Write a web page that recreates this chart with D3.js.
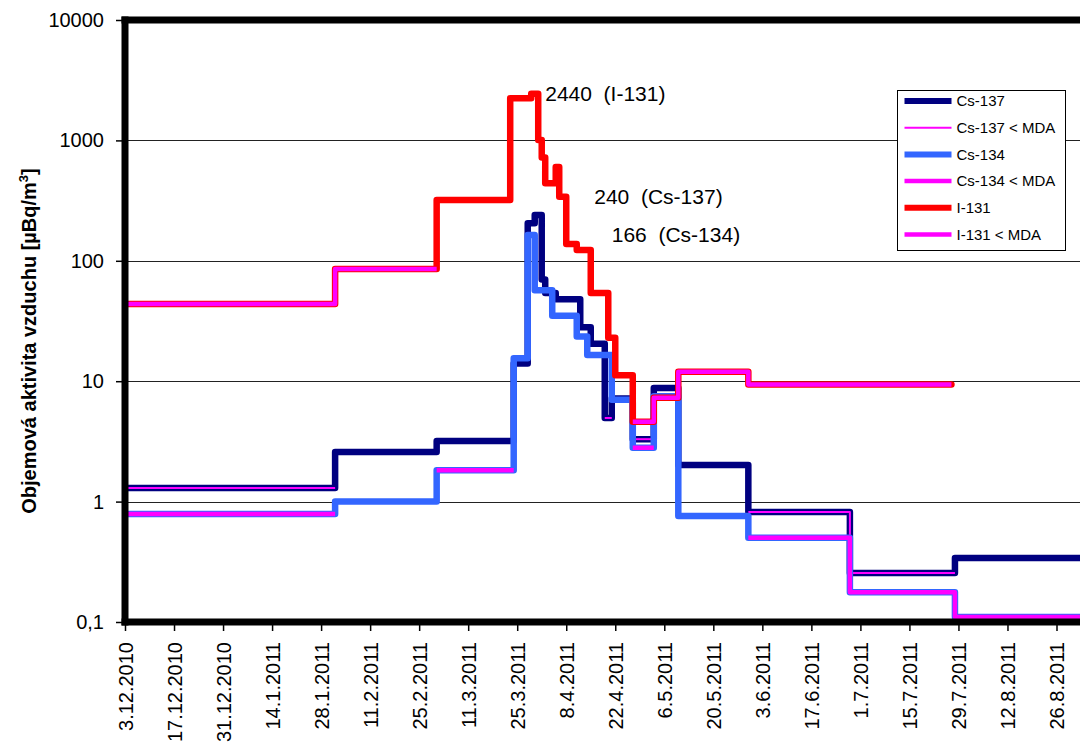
<!DOCTYPE html>
<html>
<head>
<meta charset="utf-8">
<script src="https://cdn.jsdelivr.net/npm/d3@7"></script>
<style>
  body { margin: 0; background: #fff; }
  text { font-family: Arial, "Liberation Sans", sans-serif; fill: #000; }
</style>
</head>
<body>
<svg id="chart" width="1080" height="749"></svg>
<script>
// x axis tick labels (every 14 days)
const xTickLabels = ["3.12.2010", "17.12.2010", "31.12.2010", "14.1.2011", "28.1.2011", "11.2.2011",
  "25.2.2011", "11.3.2011", "25.3.2011", "8.4.2011", "22.4.2011", "6.5.2011", "20.5.2011",
  "3.6.2011", "17.6.2011", "1.7.2011", "15.7.2011", "29.7.2011", "12.8.2011", "26.8.2011"];
const yTickValues = [0.1, 1, 10, 100, 1000, 10000];
const yTickLabels = ["0,1", "1", "10", "100", "1000", "10000"];

// step series: start date of each period, value, below-MDA flag (last date = end of last period)
const cs137Dates = ["3.12.2010", "1.2.2011", "2.3.2011", "24.3.2011", "28.3.2011", "30.3.2011", "1.4.2011",
  "2.4.2011", "5.4.2011", "12.4.2011", "15.4.2011", "19.4.2011", "21.4.2011", "27.4.2011", "3.5.2011",
  "10.5.2011", "30.5.2011", "28.6.2011", "28.7.2011", "9.9.2011"];
const cs137Values = [1.3, 2.58, 3.19, 14, 205, 240, 70, 54, 48, 28, 20.5, 4.95, 7.2, 3.3, 8.8, 2.01, 0.82, 0.255, 0.34, 0.34];
const cs137Mda = [1, 0, 0, 0, 0, 0, 0, 0, 0, 0, 0, 1, 0, 1, 0, 0, 1, 1, 0];

const cs134Dates = ["3.12.2010", "1.2.2011", "2.3.2011", "24.3.2011", "28.3.2011", "30.3.2011", "4.4.2011",
  "11.4.2011", "14.4.2011", "21.4.2011", "27.4.2011", "3.5.2011", "10.5.2011", "30.5.2011", "28.6.2011",
  "28.7.2011", "9.9.2011"];
const cs134Values = [0.79, 1.0, 1.82, 15.5, 164, 57, 35, 23.5, 16.5, 7.0, 2.8, 7.5, 0.76, 0.5, 0.177, 0.11, 0.11];
const cs134Mda = [1, 0, 1, 0, 0, 0, 0, 0, 0, 0, 1, 0, 0, 1, 1, 1];

const i131Dates = ["3.12.2010", "1.2.2011", "2.3.2011", "23.3.2011", "29.3.2011", "31.3.2011", "1.4.2011",
  "2.4.2011", "5.4.2011", "6.4.2011", "8.4.2011", "11.4.2011", "15.4.2011", "20.4.2011", "22.4.2011",
  "27.4.2011", "3.5.2011", "10.5.2011", "30.5.2011", "27.7.2011"];
const i131Values = [43.8, 85.5, 320, 2240, 2440, 1010, 720, 440, 600, 340, 138, 123, 54, 23, 11.2, 4.6, 7.3, 12, 9.4, 9.4];
const i131Mda = [1, 1, 0, 0, 0, 0, 0, 0, 0, 0, 0, 0, 0, 0, 0, 1, 1, 1, 1];

const legendNames = ["Cs-137", "Cs-137 < MDA", "Cs-134", "Cs-134 < MDA", "I-131", "I-131 < MDA"];
const peakNotes = ["2440  (I-131)", "240  (Cs-137)", "166  (Cs-134)"];
const peakNoteDates = ["2.4.2011", "16.4.2011", "21.4.2011"];

const parse = d3.utcParse("%d.%m.%Y");
const svg = d3.select("#chart");

const plotLeft = 125, plotTop = 20, plotBottom = 622;
const x = d3.scaleUtc()
  .domain([parse("3.12.2010"), parse("26.8.2011")])
  .range([plotLeft, 1056.5]);
const y = d3.scaleLog().domain([0.1, 10000]).range([plotBottom, plotTop]);

svg.append("clipPath").attr("id", "plot")
  .append("rect").attr("x", plotLeft).attr("y", plotTop).attr("width", 1200).attr("height", plotBottom - plotTop);

// gridlines
svg.append("g").selectAll("line")
  .data(yTickValues.slice(1, -1))
  .join("line")
  .attr("x1", plotLeft).attr("x2", 1080)
  .attr("y1", d => Math.round(y(d)) + 0.5).attr("y2", d => Math.round(y(d)) + 0.5)
  .attr("stroke", "#222").attr("stroke-width", 1);

// y axis
const yAxis = d3.axisLeft(y).tickValues(yTickValues)
  .tickFormat((d, i) => yTickLabels[i]).tickSize(6).tickPadding(12);
const gy = svg.append("g").attr("transform", `translate(${plotLeft - 3},0)`).call(yAxis);
gy.select(".domain").remove();
gy.selectAll("line").attr("stroke-width", 1.5);
gy.selectAll("text").style("font-size", "20px");

// x axis
const xAxis = d3.axisBottom(x).tickValues(xTickLabels.map(parse))
  .tickFormat((d, i) => xTickLabels[i]).tickSize(6).tickPadding(0);
const gx = svg.append("g").attr("transform", `translate(0,${plotBottom + 3})`).call(xAxis);
gx.select(".domain").remove();
gx.selectAll("line").attr("stroke-width", 1.5);
gx.selectAll("text")
  .style("font-size", "20px")
  .attr("text-anchor", "end")
  .attr("dy", null)
  .attr("transform", "translate(7,17) rotate(-90)")
  .attr("x", 0).attr("y", 0);

// y title
svg.append("text")
  .attr("transform", `translate(36,${(plotTop + plotBottom) / 2 + 20}) rotate(-90)`)
  .attr("text-anchor", "middle")
  .style("font-size", "20px").style("font-weight", "bold")
  .html('Objemová aktivita vzduchu [µBq/m<tspan dy="-8" font-size="13px">3</tspan><tspan dy="8">]</tspan>');

// series
const stepLine = d3.line().x(d => x(d[0])).y(d => y(d[1])).curve(d3.curveStepAfter);

function points(dates, values) {
  return dates.map((d, i) => [parse(d), values[i]]);
}
function mdaRuns(dates, values, mda) {
  const runs = [];
  let run = null;
  mda.forEach((m, i) => {
    if (m) {
      if (!run) { run = []; runs.push(run); }
      run.push([parse(dates[i]), values[i]]);
    } else if (run) {
      run.push([parse(dates[i]), values[i - 1]]);
      run = null;
    }
  });
  if (run) run.push([parse(dates[mda.length]), values[mda.length - 1]]);
  return runs;
}

const plot = svg.append("g").attr("clip-path", "url(#plot)");
const series = [
  { dates: cs137Dates, values: cs137Values, mda: cs137Mda, color: "#000080", mdaWidth: 2 },
  { dates: cs134Dates, values: cs134Values, mda: cs134Mda, color: "#3366FF", mdaWidth: 4.5 },
  { dates: i131Dates, values: i131Values, mda: i131Mda, color: "#FF0000", mdaWidth: 4.5 }
];
series.forEach(s => {
  plot.append("path")
    .datum(points(s.dates, s.values))
    .attr("d", stepLine)
    .attr("fill", "none").attr("stroke", s.color).attr("stroke-width", 6.5)
    .attr("stroke-linejoin", "round").attr("stroke-linecap", "round");
  plot.selectAll(null)
    .data(mdaRuns(s.dates, s.values, s.mda))
    .join("path")
    .attr("d", stepLine)
    .attr("fill", "none").attr("stroke", "#FF00FF").attr("stroke-width", s.mdaWidth)
    .attr("stroke-linejoin", "round").attr("stroke-linecap", "butt");
});

// frame
svg.append("line").attr("x1", plotLeft).attr("x2", plotLeft).attr("y1", plotTop - 3.5).attr("y2", plotBottom + 3.5)
  .attr("stroke", "#000").attr("stroke-width", 7);
svg.append("line").attr("x1", plotLeft - 3.5).attr("x2", 1080).attr("y1", plotTop).attr("y2", plotTop)
  .attr("stroke", "#000").attr("stroke-width", 7);
svg.append("line").attr("x1", plotLeft - 3.5).attr("x2", 1080).attr("y1", plotBottom).attr("y2", plotBottom)
  .attr("stroke", "#000").attr("stroke-width", 7);

// peak annotations (placed beside each peak)
const noteShiftY = [0, -18, 0];
svg.append("g").selectAll("text")
  .data(peakNotes)
  .join("text")
  .attr("x", (d, i) => x(parse(peakNoteDates[i])))
  .attr("y", (d, i) => y([2440, 240, 166][i]) + noteShiftY[i])
  .attr("dy", "0.35em")
  .style("font-size", "21px")
  .style("white-space", "pre")
  .text(d => d);

// legend
const legend = svg.append("g").attr("transform", "translate(897.5,90.5)");
legend.append("rect").attr("width", 168).attr("height", 160)
  .attr("fill", "#fff").attr("stroke", "#000").attr("stroke-width", 1);
const legendColors = ["#000080", "#FF00FF", "#3366FF", "#FF00FF", "#FF0000", "#FF00FF"];
const legendWidths = [6, 2, 6, 4.5, 6, 4.5];
const rows = legend.selectAll("g").data(legendNames).join("g")
  .attr("transform", (d, i) => `translate(0,${10.5 + i * 26.7})`);
rows.append("line").attr("x1", 7).attr("x2", 54)
  .attr("stroke", (d, i) => legendColors[i]).attr("stroke-width", (d, i) => legendWidths[i]);
rows.append("text").attr("x", 59).attr("dy", "0.35em")
  .style("font-size", "15px").text(d => d);
</script>
</body>
</html>
